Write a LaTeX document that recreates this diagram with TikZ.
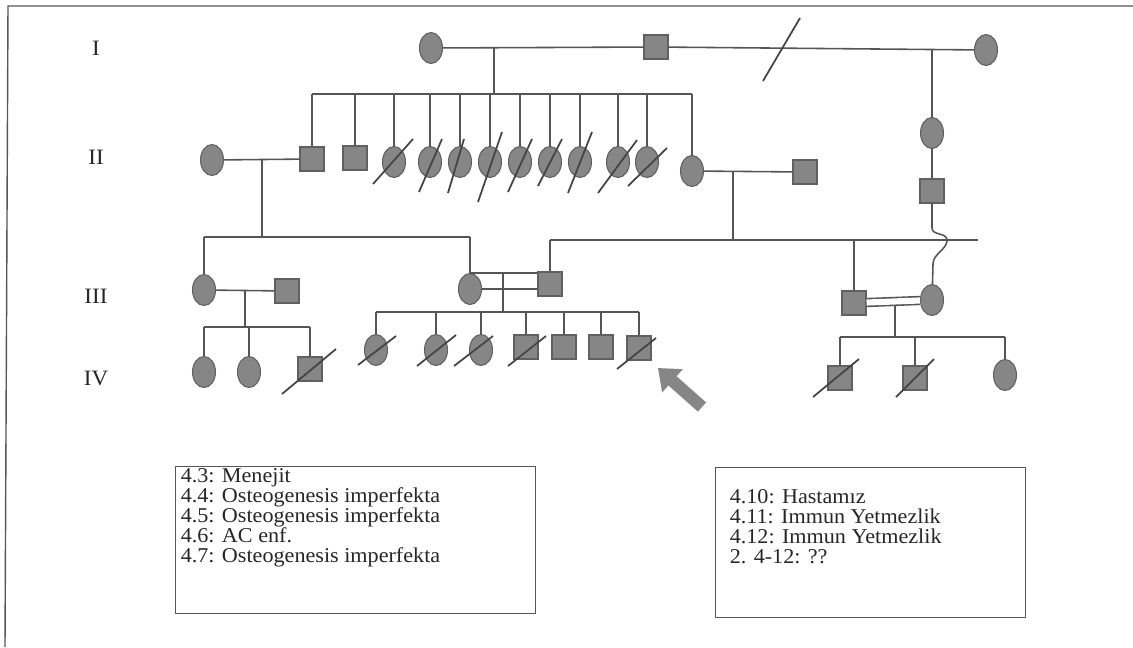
\documentclass[tikz,border=0pt]{standalone}
\usepackage{fontspec}
\setmainfont{Liberation Serif}[FakeStretch=1.05]
\usetikzlibrary{shapes.geometric,arrows.meta}

\definecolor{linegray}{HTML}{555555}
\definecolor{symfill}{HTML}{868686}
\definecolor{symedge}{HTML}{606060}
\definecolor{slashgray}{HTML}{444444}
\definecolor{textgray}{HTML}{262626}

\begin{document}
\begin{tikzpicture}[x=0.02cm, y=-0.02cm, color=linegray, line width=0.9pt,
    fem/.style={ellipse, draw=symedge, fill=symfill, line width=0.6pt,
        minimum width=0.46cm, minimum height=0.62cm, inner sep=0pt},
    male/.style={rectangle, draw=symedge, fill=symfill, line width=0.6pt,
        minimum size=0.48cm, inner sep=0pt},
    slash/.style={draw=slashgray, line width=1pt},
    gen/.style={font=\fontsize{12.5}{12}\selectfont, text=textgray, inner sep=0pt},
    legbox/.style={draw=linegray, line width=0.8pt, anchor=north west, inner sep=0pt},
    legtext/.style={align=left, anchor=north west, inner sep=0pt, text=textgray,
        font=\fontsize{12}{11.4}\selectfont},
    pointer/.style={draw=symfill, line width=7pt, -{Triangle[length=11pt, width=17pt]}}]

    \useasboundingbox (0,0) rectangle (1133,647);

    % frame of the page
    \draw[line width=0.8pt] (5,647) -- (8,6) -- (1133,6);

    % generation labels
    \node[gen] (lI)   at (96,48)  {I};
    \node[gen] (lII)  at (96,157) {II};
    \node[gen] (lIII) at (96,296) {III};
    \node[gen] (lIV)  at (96,378) {IV};

    % generation I
    \node[fem]  (i1) at (431,48) {};
    \node[male] (i2) at (656,47) {};
    \node[fem]  (i3) at (986,50) {};
    \draw (i1) -- (i2);
    \draw (i2) -- (i3);
    % divorce mark on the second marriage
    \coordinate (div) at (781,50);
    \draw[slash] (div) +(-18,31) -- +(19,-32);

    \coordinate (mI1) at (494,48);
    \coordinate (mI2) at (932,49);
    \coordinate (sibII)  at (312,94);
    \coordinate (sibIIe) at (692,94);

    % generation II
    \node[fem]  (ii0)  at (212,160) {};
    \node[male] (ii1)  at (312,159) {};
    \node[male] (ii2)  at (355,158) {};
    \node[fem]  (ii3)  at (394,162) {};
    \node[fem]  (ii4)  at (430,162) {};
    \node[fem]  (ii5)  at (460,162) {};
    \node[fem]  (ii6)  at (490,162) {};
    \node[fem]  (ii7)  at (520,162) {};
    \node[fem]  (ii8)  at (550,162) {};
    \node[fem]  (ii9)  at (580,162) {};
    \node[fem]  (ii10) at (618,162) {};
    \node[fem]  (ii11) at (647,162) {};
    \node[fem]  (ii12) at (692,171) {};
    \node[male] (ii14) at (805,172) {};
    \node[fem]  (ii15) at (932,133) {};
    \node[male] (ii16) at (932,191) {};

    \draw (mI1) -- (mI1 |- sibII);
    \draw (sibII) -- (sibIIe);
    \draw (ii1) -- (ii1 |- sibII);
    \draw (ii2) -- (ii2 |- sibII);
    \draw (ii3) -- (ii3 |- sibII);
    \draw (ii4) -- (ii4 |- sibII);
    \draw (ii5) -- (ii5 |- sibII);
    \draw (ii6) -- (ii6 |- sibII);
    \draw (ii7) -- (ii7 |- sibII);
    \draw (ii8) -- (ii8 |- sibII);
    \draw (ii9) -- (ii9 |- sibII);
    \draw (ii10) -- (ii10 |- sibII);
    \draw (ii11) -- (ii11 |- sibII);
    \draw (ii12) -- (ii12 |- sibII);
    \draw (mI2) -- (ii15);
    \draw (ii15) -- (ii16);

    % deceased sisters
    \draw[slash] (ii3.center)  +(-21,22) -- +(19,-23);
    \draw[slash] (ii4.center)  +(-11,30) -- +(12,-23);
    \draw[slash] (ii5.center)  +(-12,31) -- +(4,-23);
    \draw[slash] (ii6.center)  +(-12,40) -- +(12,-30);
    \draw[slash] (ii7.center)  +(-12,30) -- +(12,-23);
    \draw[slash] (ii8.center)  +(-12,24) -- +(12,-23);
    \draw[slash] (ii9.center)  +(-12,31) -- +(12,-30);
    \draw[slash] (ii10.center) +(-20,31) -- +(19,-22);
    \draw[slash] (ii11.center) +(-19,24) -- +(20,-14);

    % marriages of generation II
    \draw (ii0) -- (ii1);
    \draw (ii12) -- (ii14);
    \coordinate (mII1) at (262,160);
    \coordinate (mII2) at (733,171);
    \coordinate (sibIIIa)  at (204,237);
    \coordinate (sibIIIae) at (470,237);
    \coordinate (sibIIIb)  at (550,240);
    \coordinate (sibIIIbe) at (978,240);

    % generation III
    \node[fem]  (iii1) at (204,290) {};
    \node[fem]  (iii2) at (470,289) {};
    \node[male] (iii3) at (550,284) {};
    \node[male] (iii4) at (854,303) {};
    \node[fem]  (iii5) at (932,300) {};
    \node[male] (iii6) at (287,291) {};

    \draw (mII1) -- (mII1 |- sibIIIa);
    \draw (sibIIIa) -- (sibIIIae);
    \draw (iii1) -- (iii1 |- sibIIIa);
    \draw (iii2) -- (iii2 |- sibIIIa);
    \draw (mII2) -- (mII2 |- sibIIIb);
    \draw (sibIIIb) -- (sibIIIbe);
    \draw (iii3) -- (iii3 |- sibIIIb);
    \draw (iii4) -- (iii4 |- sibIIIb);
    % line from II square to III daughter, jumping over the sibship line
    \draw (ii16) -- (932,228) .. controls (932,236) and (948,232) .. (947,241)
        .. controls (946,250) and (933,254) .. (933,264) -- (iii5);

    % marriages of generation III
    \draw (iii1) -- (iii6);
    \draw (iii2.north) -- (iii2.north -| iii3.west);
    \draw (iii2.east) -- (iii2.east -| iii3.west);
    \draw[double, double distance=3.5pt] (iii4) -- (iii5);
    \coordinate (mIII1) at (245,290);
    \coordinate (mIII2) at (503,274);
    \coordinate (mIII3) at (895,306);
    \coordinate (sibIVa)  at (204,327);
    \coordinate (sibIVae) at (310,327);
    \coordinate (sibIVb)  at (376,312);
    \coordinate (sibIVbe) at (639,312);
    \coordinate (sibIVc)  at (840,337);
    \coordinate (sibIVce) at (1005,337);

    % generation IV
    \node[fem]  (iv1)  at (204,372) {};
    \node[fem]  (iv2)  at (249,372) {};
    \node[male] (iv3)  at (310,369) {};
    \node[fem]  (iv4)  at (376,350) {};
    \node[fem]  (iv5)  at (436,350) {};
    \node[fem]  (iv6)  at (481,350) {};
    \node[male] (iv7)  at (526,347) {};
    \node[male] (iv8)  at (564,347) {};
    \node[male] (iv9)  at (601,347) {};
    \node[male] (iv10) at (639,348) {};
    \node[male] (iv11) at (840,378) {};
    \node[male] (iv12) at (915,378) {};
    \node[fem]  (iv13) at (1005,375) {};

    \draw (mIII1) -- (mIII1 |- sibIVa);
    \draw (sibIVa) -- (sibIVae);
    \draw (iv1) -- (iv1 |- sibIVa);
    \draw (iv2) -- (iv2 |- sibIVa);
    \draw (iv3) -- (iv3 |- sibIVa);
    \draw (mIII2) -- (mIII2 |- sibIVb);
    \draw (sibIVb) -- (sibIVbe);
    \draw (iv4) -- (iv4 |- sibIVb);
    \draw (iv5) -- (iv5 |- sibIVb);
    \draw (iv6) -- (iv6 |- sibIVb);
    \draw (iv7) -- (iv7 |- sibIVb);
    \draw (iv8) -- (iv8 |- sibIVb);
    \draw (iv9) -- (iv9 |- sibIVb);
    \draw (iv10) -- (iv10 |- sibIVb);
    \draw (mIII3) -- (mIII3 |- sibIVc);
    \draw (sibIVc) -- (sibIVce);
    \draw (iv11) -- (iv11 |- sibIVc);
    \draw (iv12) -- (iv12 |- sibIVc);
    \draw (iv13) -- (iv13 |- sibIVc);

    % deceased in generation IV
    \draw[slash] (iv3.center)  +(-28,25) -- +(26,-20);
    \draw[slash] (iv4.center)  +(-18,15) -- +(20,-14);
    \draw[slash] (iv5.center)  +(-19,16) -- +(20,-15);
    \draw[slash] (iv6.center)  +(-27,16) -- +(12,-14);
    \draw[slash] (iv7.center)  +(-18,19) -- +(20,-11);
    \draw[slash] (iv10.center) +(-22,21) -- +(17,-10);
    \draw[slash] (iv11.center) +(-27,19) -- +(19,-19);
    \draw[slash] (iv12.center) +(-19,19) -- +(19,-19);

    % proband
    \coordinate (arrtail) at (702,407);
    \coordinate (arrtip)  at (658,368);
    \draw[pointer] (arrtail) -- (arrtip);

    % legends
    \node[legbox, minimum width=7.2cm, minimum height=2.94cm] (boxA) at (175,466) {};
    \node[legtext] (txtA) at (180,468)
        {4.3: Menejit\\4.4: Osteogenesis imperfekta\\4.5: Osteogenesis imperfekta\\4.6: AC enf.\\4.7: Osteogenesis imperfekta};
    \node[legbox, minimum width=6.2cm, minimum height=3.0cm] (boxB) at (715,467) {};
    \node[legtext] (txtB) at (729,489)
        {4.10: Hastamız\\4.11: Immun Yetmezlik\\4.12: Immun Yetmezlik\\2. 4-12: ??};

\end{tikzpicture}
\end{document}
